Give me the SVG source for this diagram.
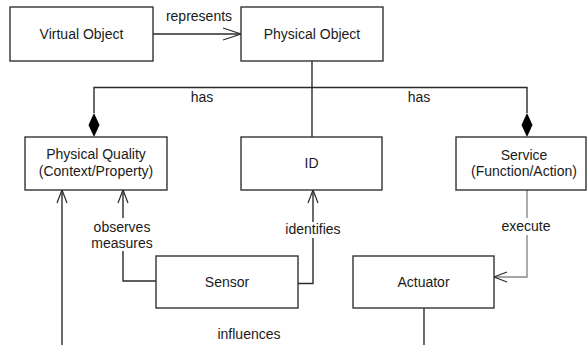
<svg xmlns="http://www.w3.org/2000/svg" width="588" height="345" viewBox="0 0 588 345">
  <defs>
    <style>
      .box rect { fill: #ffffff; stroke: #333333; stroke-width: 1.4; }
      text { font-family: "Liberation Sans", Arial, sans-serif; font-size: 14px; fill: #1a1a1a; text-anchor: middle; }
      .line { fill: none; stroke: #2b2b2b; stroke-width: 1.4; }
      .grey { stroke: #888888; }
      .head { fill: none; stroke: #2b2b2b; stroke-width: 1.2; }
      .diamond { fill: #000000; stroke: none; }
    </style>
  </defs>

  <!-- connectors -->
  <g id="connectors">
    <!-- represents -->
    <path class="line" d="M153 34 H241"/>
    <path class="head" d="M223 28 L241 34 L223 40"/>
    <text x="199" y="21">represents</text>

    <!-- composition bus: Physical Object has Quality / Service -->
    <path class="line" d="M312 61 V137"/>
    <path class="line" d="M94 113 V87.5 H527 V113"/>
    <path class="diamond" d="M94 113 L99.5 125 L94 137 L88.5 125 Z"/>
    <path class="diamond" d="M527 113 L532.5 125 L527 137 L521.5 125 Z"/>
    <text x="202" y="102">has</text>
    <text x="419" y="102">has</text>

    <!-- observes / measures -->
    <path class="line" d="M156 281 H123 V251"/>
    <path class="line" d="M123 218 V190"/>
    <path class="head" d="M118 203 L123 190 L128 203"/>
    <text x="122" y="232">observes</text>
    <text x="122" y="248">measures</text>

    <!-- identifies -->
    <path class="line" d="M298 283.5 H313 V238"/>
    <path class="line" d="M313 222 V190"/>
    <path class="head" d="M308 203 L313 190 L318 203"/>
    <text x="313" y="234">identifies</text>

    <!-- execute -->
    <path class="line grey" d="M527 190 V218"/>
    <path class="line grey" d="M527 235 V277 H494"/>
    <path class="head grey" d="M507 272 L494 277 L507 282"/>
    <text x="526" y="231">execute</text>

    <!-- influences -->
    <path class="line" d="M62 345 V190"/>
    <path class="head" d="M57 203 L62 190 L67 203"/>
    <path class="line" d="M424 308 V345"/>
    <text x="249" y="339">influences</text>
  </g>

  <!-- nodes -->
  <g id="virtual-object" class="box">
    <rect x="10" y="7" width="143" height="54"/>
    <text x="81.5" y="39">Virtual Object</text>
  </g>
  <g id="physical-object" class="box">
    <rect x="241" y="7" width="142" height="54"/>
    <text x="312" y="39">Physical Object</text>
  </g>
  <g id="physical-quality" class="box">
    <rect x="25" y="137" width="142" height="53"/>
    <text x="96" y="159">Physical Quality</text>
    <text x="96" y="176">(Context/Property)</text>
  </g>
  <g id="id" class="box">
    <rect x="241" y="137" width="141" height="53"/>
    <text x="311.5" y="168">ID</text>
  </g>
  <g id="service" class="box">
    <rect x="456" y="137" width="130" height="53"/>
    <text x="524" y="160">Service</text>
    <text x="524" y="176">(Function/Action)</text>
  </g>
  <g id="sensor" class="box">
    <rect x="156" y="256" width="142" height="52"/>
    <text x="227" y="287">Sensor</text>
  </g>
  <g id="actuator" class="box">
    <rect x="353" y="256" width="141" height="52"/>
    <text x="423.5" y="287">Actuator</text>
  </g>
</svg>
